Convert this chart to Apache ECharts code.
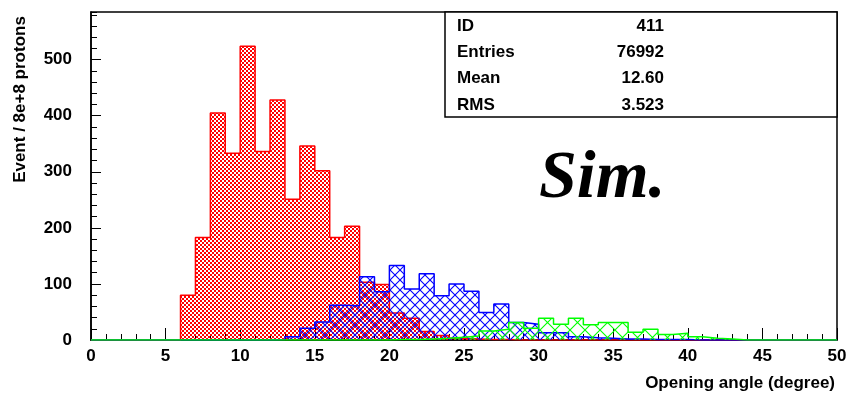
<!DOCTYPE html>
<html>
<head>
<meta charset="utf-8">
<script src="https://cdn.jsdelivr.net/npm/echarts@6/dist/echarts.min.js"></script>
<style>
html,body{margin:0;padding:0;background:#fff;}
#chart{width:849px;height:394px;}
</style>
</head>
<body>
<div id="chart"></div>
<script>
// Bin low edges 0..49 (width 1 degree)
const binEdges = Array.from({length: 51}, (_, i) => i);
const redCounts = [0,0,0,0,0,0,80,183,405,333,524,336,428,251,346,302,183,203,103,99,48,39,15,8,3,2,1,1,0,0,0,0,0,0,0,0,0,0,0,0,0,0,0,0,0,0,0,0,0,0];
const blueCounts = [0,0,0,0,0,0,0,0,0,0,0,0,1,6,21,32,62,61,113,86,133,91,118,79,100,87,49,64,31,28,13,13,6,4,3,2,2,1,1,1,0,0,0,0,0,0,0,0,0,0];
const greenCounts = [0,0,0,0,0,0,0,0,0,0,0,0,0,0,0,0,0,0,0,0,1,1,2,3,5,7,16,19,31,21,39,28,39,27,31,31,14,19,10,12,6,3,2,0,0,0,0,0,0,0];
const xTicks = [0,5,10,15,20,25,30,35,40,45,50];
const yTicks = [0,100,200,300,400,500];
const statsLabels = ['ID','Entries','Mean','RMS'];
const statsValues = ['411','76992','12.60','3.523'];

function makePattern(type, color) {
  const c = document.createElement('canvas');
  let s;
  if (type === 'checker') {
    s = 4; c.width = s; c.height = s;
    const g = c.getContext('2d');
    g.fillStyle = color;
    g.fillRect(0,0,2,2); g.fillRect(2,2,2,2);
  } else {
    s = type === 'fine' ? 10 : 15;
    c.width = s; c.height = s;
    const g = c.getContext('2d');
    g.strokeStyle = color; g.lineWidth = 1.1;
    g.beginPath();
    g.moveTo(0,0); g.lineTo(s,s);
    g.moveTo(s,0); g.lineTo(0,s);
    g.stroke();
  }
  return {image: c, repeat: 'repeat'};
}

function histData(counts) {
  const d = [[binEdges[0], 0]];
  counts.forEach((v, i) => d.push([binEdges[i], v]));
  d.push([binEdges[counts.length], 0]);
  return d;
}

const FONT = 'Liberation Sans, Arial, sans-serif';
const chart = echarts.init(document.getElementById('chart'), null, {renderer: 'canvas'});

function series(name, counts, color, pattern, z) {
  return {
    name: name, type: 'line', step: 'end', data: histData(counts),
    showSymbol: false, symbol: 'none', silent: true, animation: false, z: z,
    lineStyle: {color: color, width: 1.5},
    areaStyle: {color: pattern, opacity: 1}
  };
}

chart.setOption({
  animation: false,
  backgroundColor: '#fff',
  grid: {left: 91, right: 12, top: 12, bottom: 54, containLabel: false, outerBoundsMode: 'none',
    show: true, borderColor: '#000', borderWidth: 1.5, backgroundColor: 'transparent'},
  xAxis: {
    type: 'value', min: 0, max: 50, interval: 5,
    name: 'Opening angle (degree)', nameLocation: 'end', nameGap: -2,
    nameTextStyle: {fontFamily: FONT, fontWeight: 'bold', fontSize: 17, color: '#000', align: 'right', verticalAlign: 'top', padding: [35,0,0,0]},
    axisLine: {show: true, onZero: false, lineStyle: {color: '#000', width: 1.5}},
    axisTick: {inside: true, length: 12, lineStyle: {color: '#000'}},
    minorTick: {show: true, splitNumber: 5, length: 6, lineStyle: {color: '#000'}},
    axisLabel: {margin: 8, fontFamily: FONT, fontWeight: 'bold', fontSize: 17, color: '#000',
      formatter: v => xTicks.includes(v) ? String(v) : ''},
    splitLine: {show: false}
  },
  yAxis: [{
    type: 'value', min: 0, max: 585, interval: 100,
    name: 'Event / 8e+8 protons', nameLocation: 'middle', nameGap: 62, nameRotate: 90,
    nameTextStyle: {fontFamily: FONT, fontWeight: 'bold', fontSize: 17, color: '#000', padding: [0,0,0,153]},
    axisLine: {show: true, onZero: false, lineStyle: {color: '#000', width: 1.5}},
    axisTick: {inside: true, length: 10, lineStyle: {color: '#000'}},
    axisLabel: {margin: 19, fontFamily: FONT, fontWeight: 'bold', fontSize: 17, color: '#000', showMaxLabel: false,
      formatter: v => yTicks.includes(v) ? String(v) : ''},
    splitLine: {show: false}
  }, {
    type: 'value', min: 0, max: 585, interval: 20, position: 'left',
    axisLine: {show: false}, axisLabel: {show: false}, splitLine: {show: false},
    axisTick: {show: true, inside: true, length: 6, lineStyle: {color: '#000'}}
  }],
  series: [
    series('red', redCounts, '#ff0000', makePattern('checker', '#ff0000'), 2),
    series('blue', blueCounts, '#0000ff', makePattern('fine', '#0000ff'), 3),
    series('green', greenCounts, '#00ff00', makePattern('coarse', '#00ff00'), 4)
  ],
  graphic: [
    {type: 'rect', shape: {x: 445, y: 12, width: 392, height: 105}, style: {fill: '#fff', stroke: '#000', lineWidth: 1.5}, z: 10},
    ...statsLabels.map((t, i) => ({type: 'text', x: 457, y: 26 + i * 26.4, z: 11,
      style: {text: t, fontFamily: FONT, fontWeight: 'bold', fontSize: 17, fill: '#000', align: 'left', verticalAlign: 'middle'}})),
    ...statsValues.map((t, i) => ({type: 'text', x: 664, y: 26 + i * 26.4, z: 11,
      style: {text: t, fontFamily: FONT, fontWeight: 'bold', fontSize: 17, fill: '#000', align: 'right', verticalAlign: 'middle'}})),
    {type: 'text', x: 539, y: 179, z: 11,
      style: {text: 'Sim.', fontFamily: 'Liberation Serif, Times New Roman, serif', fontStyle: 'italic', fontWeight: 'bold', fontSize: 68, fill: '#000', verticalAlign: 'middle'}}
  ]
});
</script>
</body>
</html>
